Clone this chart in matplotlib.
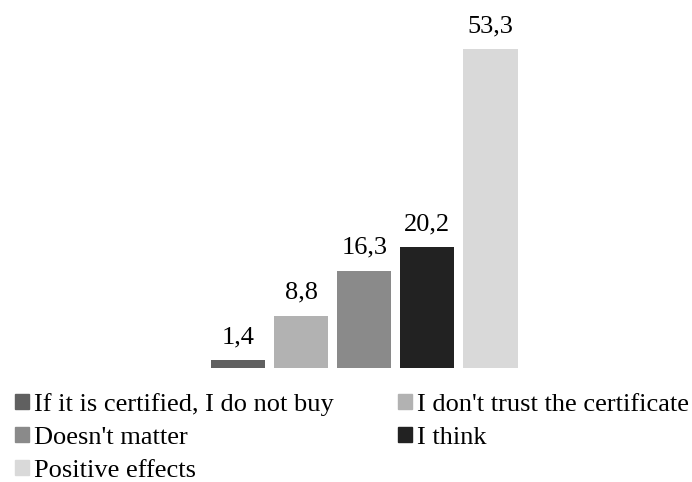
import matplotlib
matplotlib.use('Agg')
import matplotlib.pyplot as plt
import matplotlib.patches as mpatches

# data
categories = ["If it is certified, I do not buy", "I don't trust the certificate",
              "Doesn't matter", "I think", "Positive effects"]
values = [1.4, 8.8, 16.3, 20.2, 53.3]
labels = ["1,4", "8,8", "16,3", "20,2", "53,3"]
colors = ['#606060', '#b2b2b2', '#8a8a8a', '#222222', '#d9d9d9']

plt.rcParams['font.family'] = ['Liberation Serif', 'DejaVu Serif']

W, H = 692, 482
fig = plt.figure(figsize=(W / 100, H / 100), dpi=100)
# axes placed in pixel terms: x from 206.5 to 522, baseline at y=368
ax = fig.add_axes([206.5 / W, (H - 368.4) / H, 315.5 / W, 359.4 / H])
ax.set_xlim(-0.5, 4.5)
ax.set_ylim(0, 60)

xs = range(len(values))
bars = ax.bar(xs, values, width=0.86, color=colors, edgecolor='none')
for b, lab in zip(bars, labels):
    ax.annotate(lab, (b.get_x() + b.get_width() / 2, b.get_height()),
                xytext=(0, 12.2), textcoords='offset points',
                ha='center', va='baseline', fontsize=19, color='#000000')

ax.axis('off')

handles = [mpatches.Patch(color=c, label=n) for c, n in zip(colors, categories)]
order = [0, 2, 4, 1, 3]
fig.legend([handles[i] for i in order], [categories[i] for i in order],
           loc='upper left', bbox_to_anchor=(0.0, (H - 378) / H), ncol=2,
           frameon=False, fontsize=19, handlelength=0.53, handleheight=0.53,
           handletextpad=0.18, columnspacing=2.45, labelspacing=0.41,
           borderaxespad=0, borderpad=0.57)

fig.savefig('out.png', dpi=100)
